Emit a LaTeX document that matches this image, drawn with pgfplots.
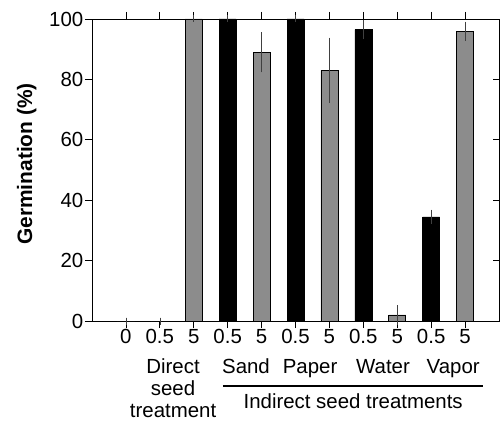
\documentclass[border=0pt]{standalone}
\usepackage{fontspec}
\setmainfont{Liberation Sans}
\usepackage{pgfplots}
\pgfplotsset{compat=1.18}

\newcommand\lab{\fontsize{20.5}{24}\selectfont}

\begin{document}
\begin{tikzpicture}
\begin{axis}[
    scale only axis,
    width=407bp, height=302bp,
    xmin=-1, xmax=11,
    ymin=0, ymax=100,
    xtick={0,...,10},
    xticklabels={0,0.5,5,0.5,5,0.5,5,0.5,5,0.5,5},
    ytick={0,20,...,100},
    ytick pos=left,
    xtick pos=both,
    tick align=outside,
    major tick length=7bp,
    axis line style={line width=0.8bp},
    every tick/.style={black, line width=0.8bp},
    ticklabel style={font=\lab},
    xticklabel style={inner sep=1.5bp},
    yticklabel style={inner sep=1.5bp},
    /pgf/number format/assume math mode=true,
    clip=false,
    ylabel={Germination (\%)},
    ylabel style={font=\bfseries\fontsize{21}{24}\selectfont,
        at={(axis description cs:-0.1474,0.52)}, anchor=base},
]
% grey bars (5 concentration, and direct treatment)
\addplot[ybar, bar width=17bp, bar shift=0pt, fill=black!45, draw=black, line width=0.6bp,
    error bars/.cd, y dir=both, y explicit,
    error bar style={line width=0.6bp, black!75},
    error mark options={mark size=3.5bp, line width=0.6bp, black!75}]
coordinates {
    (0,0) +- (0,0)
    (1,0) +- (0,0)
    (2,100) +- (0,0)
    (4,89) +- (0,5.5)
    (6,83) +- (0,9.7)
    (8,2) +- (0,2)
    (10,96) +- (0,2)
};
% black bars (0.5 concentration)
\addplot[ybar, bar width=17bp, bar shift=0pt, fill=black, draw=black, line width=0.6bp,
    error bars/.cd, y dir=both, y explicit,
    error bar style={line width=0.6bp, black!75},
    error mark options={mark size=3.5bp, line width=0.6bp, black!75}]
coordinates {
    (3,100) +- (0,0)
    (5,100) +- (0,0)
    (7,96.5) +- (0,2)
    (9,34.5) +- (0,1.2)
};

\node[anchor=base, font=\lab] at (axis cs:1.39,-17.5) {Direct};
\node[anchor=base, font=\lab] at (axis cs:1.39,-24.8) {seed};
\node[anchor=base, font=\lab] at (axis cs:1.39,-31.8) {treatment};
\node[anchor=base, font=\lab] at (axis cs:3.54,-17.5) {Sand};
\node[anchor=base, font=\lab] at (axis cs:5.43,-17.5) {Paper};
\node[anchor=base, font=\lab] at (axis cs:7.58,-17.5) {Water};
\node[anchor=base, font=\lab] at (axis cs:9.65,-17.5) {Vapor};
\draw[line width=2bp] (axis cs:2.86,-21.5) -- (axis cs:10.53,-21.5);
\node[anchor=base, font=\lab] at (axis cs:6.7,-29.1) {Indirect seed treatments};
\end{axis}

% right-hand axis with inward ticks
\begin{axis}[
    scale only axis,
    width=407bp, height=302bp,
    xmin=-1, xmax=11,
    ymin=0, ymax=100,
    axis x line=none,
    axis y line*=right,
    ytick={20,40,60,80},
    yticklabels={},
    tick align=inside,
    major tick length=6bp,
    axis line style={line width=0.8bp},
    every tick/.style={black, line width=0.8bp},
]
\end{axis}

\pgfresetboundingbox
\path[use as bounding box] ([shift={(-92bp,-101bp)}]current axis.south west)
    rectangle ([shift={(4bp,19bp)}]current axis.north east);
\end{tikzpicture}
\end{document}
